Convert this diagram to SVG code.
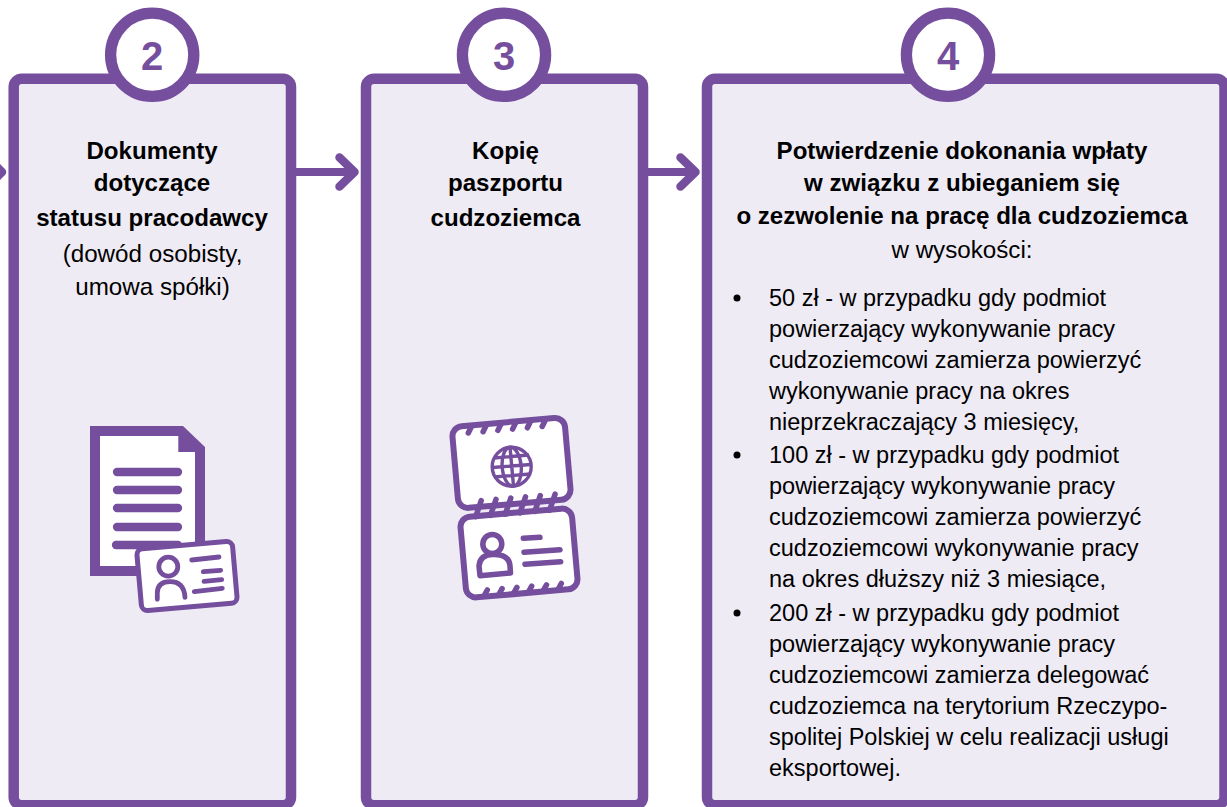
<svg xmlns="http://www.w3.org/2000/svg" width="1227" height="807" viewBox="0 0 1227 807">
<style>
.box{fill:#eeebf5;stroke:#754e9e;stroke-width:10.5}
.ring{fill:#fff;stroke:#754e9e;stroke-width:11.3}
.num{font:bold 40px "Liberation Sans",Arial,sans-serif;fill:#754e9e;text-anchor:middle}
.t{font:23.5px "Liberation Sans",Arial,sans-serif;fill:#000}
.c{text-anchor:middle}
.b{font-weight:bold;font-size:24.1px}
.r{font-size:24.2px}
.ln{fill:none;stroke:#754e9e;stroke-linecap:round;stroke-linejoin:round}
.wh{fill:#fff;stroke:#754e9e;stroke-linejoin:round}
</style>
<g id="connectors">
<path d="M-6 172H2" fill="none" stroke="#754e9e" stroke-width="8"/>
<path class="ln" stroke-width="8.5" d="M-13 157L2 172L-13 187"/>
<path d="M296 172H352" fill="none" stroke="#754e9e" stroke-width="8"/>
<path class="ln" stroke-width="8.5" d="M339.500 157.500L354.500 172L339.500 186.500"/>
<path d="M648 172H693" fill="none" stroke="#754e9e" stroke-width="8"/>
<path class="ln" stroke-width="8.5" d="M680.500 157.500L695.500 172L680.500 186.500"/>
</g>
<g id="node-2">
<rect class="box" x="13.7" y="78.8" width="277.3" height="726.4" rx="8"/>
<circle class="ring" cx="152.200" cy="54.800" r="41.600"/>
<text class="num" x="152" y="70">2</text>
<g class="t c">
<text class="b" x="152" y="159">Dokumenty</text>
<text class="b" x="152" y="191">dotyczące</text>
<text class="b" x="152" y="226">statusu pracodawcy</text>
<text class="r" x="152.500" y="262">(dowód osobisty,</text>
<text class="r" x="152.500" y="295">umowa spółki)</text>
</g>
<path d="M90 426H183L205 447V576H90Z" fill="#754e9e"/>
<path d="M100 436H178.300V452H195V566H100Z" fill="#fff"/>
<path class="ln" stroke-width="8.300" d="M117 472H178M117 490H178M117 508H178M117 527H178M116 545H178"/>
<rect class="wh" stroke-width="5" x="139" y="545" width="96" height="62" rx="6" transform="rotate(-5 187 576)"/>
<circle cx="168.300" cy="566.700" r="9.500" fill="none" stroke="#754e9e" stroke-width="4.800"/>
<path class="ln" stroke-width="4.800" d="M157.300 599.300V593Q157.500 581.700 170 581.700Q184 581.700 185 597.300"/>
<path class="ln" stroke-width="4.800" d="M191.700 560L219 557M203.300 571.700L220.700 570.300M204 581.300L221.700 579.700M194.300 591.700L222.300 588.300"/>
</g>
<g id="node-3">
<rect class="box" x="366" y="78.8" width="277" height="726.4" rx="8"/>
<circle class="ring" cx="504" cy="54.800" r="41.600"/>
<text class="num" x="504" y="70">3</text>
<g class="t c">
<text class="b" x="505.500" y="159">Kopię</text>
<text class="b" x="505.500" y="191">paszportu</text>
<text class="b" x="505.500" y="226">cudzoziemca</text>
</g>
<rect class="wh" stroke-width="6" x="455" y="422" width="113" height="82" rx="10" transform="rotate(-5 511 463)"/>
<rect class="wh" stroke-width="6" x="463" y="512.500" width="112" height="81" rx="10" transform="rotate(-5 519 553)"/>
<path class="ln" stroke-width="5.500" d="M471.700 426l-3.400 7M486.500 424.700l-3.400 7M501.300 423.400l-3.400 7M516 422.100l-3.400 7M530.800 420.800l-3.400 7M545.600 419.500l-3.400 7"/>
<path class="ln" stroke-width="5.500" d="M481.200 500.700l-5.500 16M496 499.400l-5.500 16M510.800 498.100l-5.500 16M525.500 496.800l-5.500 16M540.300 495.500l-5.500 16M555.100 494.200l-5.500 16"/>
<path class="ln" stroke-width="5.500" d="M487.300 590l-3.300 6M502.100 588.700l-3.300 6M516.900 587.400l-3.300 6M531.700 586.100l-3.300 6M546.500 584.800l-3.300 6M561.300 583.500l-3.300 6"/>
<g fill="none" stroke="#754e9e" stroke-width="3.400">
<circle cx="511.700" cy="466.700" r="19.500"/>
<ellipse cx="511.700" cy="466.700" rx="9.500" ry="19.500" transform="rotate(-5 511.700 466.700)"/>
<path d="M494 458L529 455M492.500 467.500L531 464.500M494 477L530 474M510 447L513.500 486"/>
</g>
<circle cx="492.300" cy="544" r="9.500" fill="none" stroke="#754e9e" stroke-width="5.500"/>
<path class="ln" stroke-width="5.500" d="M480 575.700L479 566Q480 554.500 493 554.500Q509 554 510 566L510.500 573Z"/>
<path class="ln" stroke-width="5.500" d="M523.300 538.300L540 537.300M524 552.300L560 549.700M525 564.300L560.700 561.700"/>
</g>
<g id="node-4">
<rect class="box" x="707" y="78.8" width="517.5" height="726.4" rx="8"/>
<circle class="ring" cx="948" cy="54.800" r="41.600"/>
<text class="num" x="948" y="70">4</text>
<g class="t c">
<text class="b" x="962" y="159">Potwierdzenie dokonania wpłaty</text>
<text class="b" x="962" y="191">w związku z ubieganiem się</text>
<text class="b" x="962" y="224">o zezwolenie na pracę dla cudzoziemca</text>
<text class="r" x="962" y="258">w wysokości:</text>
</g>
<g fill="#000">
<circle cx="737" cy="298" r="3.500"/>
<circle cx="737" cy="455" r="3.500"/>
<circle cx="737" cy="613" r="3.500"/>
</g>
<g class="t">
<text x="769" y="306">50 zł - w przypadku gdy podmiot</text>
<text x="769" y="337">powierzający wykonywanie pracy</text>
<text x="769" y="368">cudzoziemcowi zamierza powierzyć</text>
<text x="769" y="399">wykonywanie pracy na okres</text>
<text x="769" y="430">nieprzekraczający 3 miesięcy,</text>
<text x="769" y="463">100 zł - w przypadku gdy podmiot</text>
<text x="769" y="494">powierzający wykonywanie pracy</text>
<text x="769" y="525">cudzoziemcowi zamierza powierzyć</text>
<text x="769" y="556">cudzoziemcowi wykonywanie pracy</text>
<text x="769" y="587">na okres dłuższy niż 3 miesiące,</text>
<text x="769" y="621">200 zł - w przypadku gdy podmiot</text>
<text x="769" y="652">powierzający wykonywanie pracy</text>
<text x="769" y="683">cudzoziemcowi zamierza delegować</text>
<text x="769" y="714">cudzoziemca na terytorium Rzeczypo-</text>
<text x="769" y="745">spolitej Polskiej w celu realizacji usługi</text>
<text x="769" y="776">eksportowej.</text>
</g>
</g>
</svg>
